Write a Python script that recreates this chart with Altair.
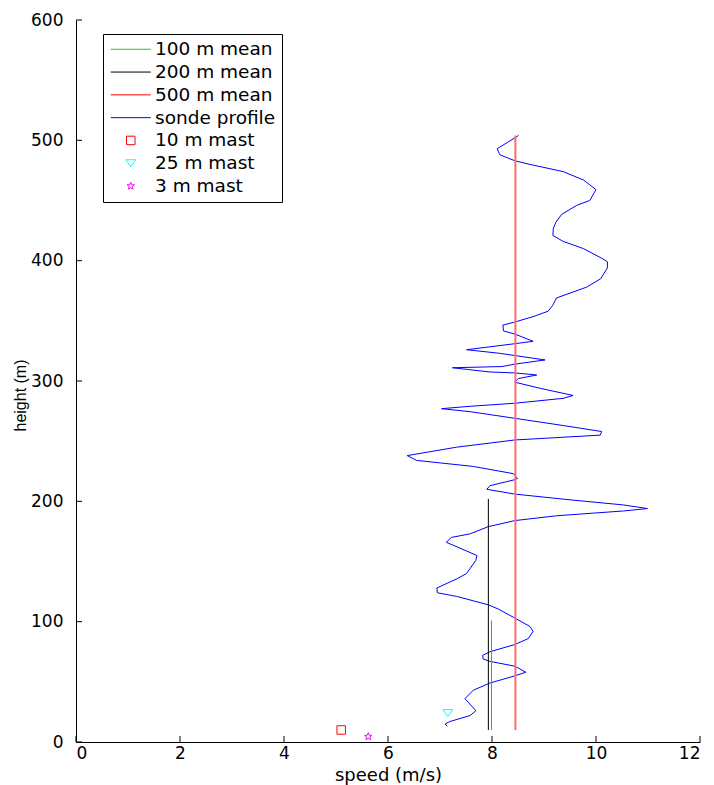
import math
import altair as alt
import pandas as pd

# ---- data ----
sonde_speed = [7.14, 7.10, 7.19, 7.58, 7.69, 7.48, 7.64, 7.96, 8.44, 8.65, 8.44, 7.96, 7.83, 7.82,
               7.96, 8.44, 8.70, 8.79, 8.73, 8.44, 8.12, 7.93, 7.32, 6.95, 6.94, 7.32, 7.51, 7.69,
               7.71, 7.12, 7.22, 7.58, 7.93, 8.44, 9.24, 10.53, 10.99, 10.53, 9.56, 8.44, 7.90,
               7.96, 8.44, 8.49, 8.41, 7.64, 6.55, 6.37, 7.32, 8.44, 10.08, 10.11, 9.37, 8.44,
               7.58, 7.03, 7.58, 8.44, 9.37, 9.56, 8.92, 8.44, 8.51, 8.86, 8.44, 7.96, 7.55,
               7.24, 8.19, 8.44, 9.02, 8.15, 7.51, 8.44, 8.79, 8.44, 8.22, 8.21, 8.44, 8.79,
               9.08, 9.17, 9.24, 9.82, 10.09, 10.22, 10.22, 10.11, 9.76, 9.37, 9.17, 9.18, 9.23,
               9.34, 9.63, 9.88, 10.0, 9.76, 9.37, 8.73, 8.44, 8.15, 8.10, 8.51]
sonde_height = [13, 15, 17, 22, 26, 36, 43, 49, 55, 58, 63, 67, 69, 72,
                75, 81, 86, 92, 96, 103, 110.5, 114, 121, 124, 128, 135.5, 140, 151,
                155, 166, 170, 173, 179, 184, 188, 192, 194, 197, 201, 206, 210,
                213, 218, 219, 223, 229, 234, 238, 245, 251, 255, 258, 263, 269,
                274.5, 277, 279, 281.5, 285.6, 288, 294, 299, 302, 305, 306.7, 307.5, 309.5,
                311, 312, 314, 317.5, 323, 326, 331, 333, 339, 341.6, 346.5, 349, 353.5,
                358, 363, 369, 378, 385, 394, 399, 402, 410, 416, 421, 427, 432,
                438.5, 446, 450, 459, 467, 474, 480, 483, 488, 493, 504]

mean_names = ["100 m mean", "200 m mean", "500 m mean"]
mean_speed = [7.99, 7.93, 8.45]
mean_bottom = [10, 10, 10]
mean_top = [101, 202, 504]
mean_colors = ["#00d400", "#000000", "#ff6b6b"]
mean_widths = [1, 1, 2]

mast_names = ["10 m mast", "25 m mast", "3 m mast"]
mast_speed = [5.10, 7.15, 5.62]
mast_height = [10, 24, 4.5]

series = mean_names + ["sonde profile"] + mast_names
series_colors = ["#22cc22", "#000000", "#ff0000", "#0000ff", "#ff0000", "#00ffff", "#ff00ff"]

x_ticks = [0, 2, 4, 6, 8, 10, 12]
y_ticks = [0, 100, 200, 300, 400, 500, 600]

# ---- tables ----
df_sonde = pd.DataFrame({"speed": sonde_speed, "height": sonde_height,
                         "idx": list(range(len(sonde_speed)))})
df_mean = pd.DataFrame({"series": mean_names, "speed": mean_speed,
                        "height": mean_bottom, "h1": mean_top, "color": mean_colors,
                        "w": mean_widths})
df_mast = pd.DataFrame({"series": mast_names, "speed": mast_speed, "height": mast_height})
df_xt = pd.DataFrame({"speed": x_ticks})
df_yt = pd.DataFrame({"height": y_ticks})


def star_path(r_out=0.78, r_in=0.33):
    pts = []
    for k in range(10):
        r = r_out if k % 2 == 0 else r_in
        a = -math.pi / 2 + k * math.pi / 5
        pts.append(f"{r * math.cos(a):.3f},{r * math.sin(a):.3f}")
    return "M" + "L".join(pts) + "Z"


line_sym = "M-4,0L4,0"
square_sym = "M-0.85,-0.85L0.85,-0.85L0.85,0.85L-0.85,0.85Z"
tri_sym = "M-1,-0.7L1,-0.7L0,0.7Z"
shapes = [line_sym, line_sym, line_sym, line_sym, square_sym, tri_sym, star_path()]

W, H = 624, 722
xscale = alt.Scale(domain=[0, 12], nice=False, zero=False)
yscale = alt.Scale(domain=[0, 600], nice=False, zero=False)

xaxis = alt.Axis(values=x_ticks, ticks=False, grid=False, labelFont="DejaVu Sans",
                 labelFontSize=17, labelColor="black", labelPadding=3, labelBaseline="top",
                 domainColor="black", domainWidth=1, title="speed (m/s)",
                 titleFont="DejaVu Sans", titleFontSize=18, titleFontWeight="normal",
                 titleColor="black", titleX=W / 2, titleY=38, titleBaseline="alphabetic",
                 titleAlign="center", format="d")
yaxis = alt.Axis(values=y_ticks, ticks=False, grid=False, labelFont="DejaVu Sans",
                 labelFontSize=17, labelColor="black", labelPadding=13,
                 domainColor="black", domainWidth=1, title="height (m)",
                 titleFont="Liberation Sans", titleFontSize=16, titleFontWeight="normal",
                 titleColor="black", titleX=-51, titleY=H / 2 + 14, titleAngle=270,
                 titleBaseline="alphabetic", titleAlign="center", format="d")

legend = alt.Legend(title=None, orient="none", legendX=27, legendY=14,
                    labelFont="DejaVu Sans", labelFontSize=18.5, labelColor="black",
                    symbolSize=100, symbolStrokeWidth=1, symbolOpacity=1,
                    symbolOffset=12.5, labelOffset=15, padding=6, rowPadding=3.8,
                    strokeColor="black", fillColor="white", cornerRadius=0)

X = alt.X("speed:Q", scale=xscale, axis=xaxis)
Y = alt.Y("height:Q", scale=yscale, axis=yaxis)

sonde = alt.Chart(df_sonde).mark_line(strokeWidth=1, color="#0000ff").encode(
    x=X, y=Y, order="idx:Q",
)

means = alt.Chart(df_mean).mark_rule().encode(
    x=X, y=Y, y2="h1:Q",
    stroke=alt.Stroke("color:N", scale=None),
    strokeWidth=alt.StrokeWidth("w:Q", scale=None),
)

masts = alt.Chart(df_mast).mark_point(filled=False, size=100, strokeWidth=1, opacity=1).encode(
    x=X, y=Y,
    color=alt.Color("series:N", scale=alt.Scale(domain=series, range=series_colors), legend=legend),
    shape=alt.Shape("series:N", scale=alt.Scale(domain=series, range=shapes), legend=legend),
)

xticks = alt.Chart(df_xt).mark_rule(color="black", strokeWidth=1).encode(
    x=X, y=alt.value(H), y2=alt.value(H - 6),
)
yticks = alt.Chart(df_yt).mark_rule(color="black", strokeWidth=1).encode(
    y=Y, x=alt.value(0), x2=alt.value(6),
)

chart = alt.layer(sonde, means, masts, xticks, yticks).properties(
    width=W, height=H,
    autosize=alt.AutoSizeParams(type="none"),
    padding={"left": 76, "top": 20, "right": 14, "bottom": 43},
    background="white",
).configure_view(stroke=None)

chart.save("out.html", embed_options={"renderer": "svg", "actions": False})
